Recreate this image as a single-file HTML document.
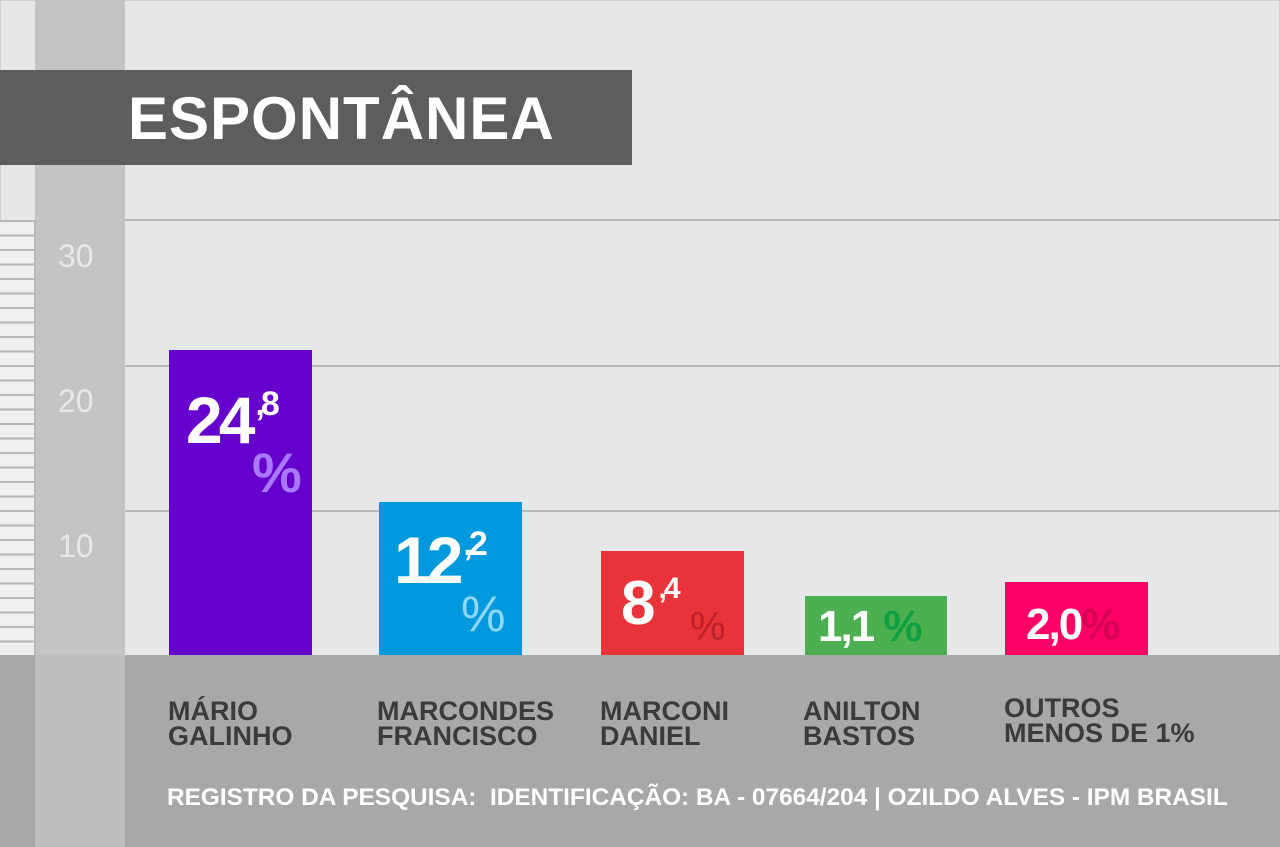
<!DOCTYPE html><html><head><meta charset="utf-8"><style>
body{margin:0;width:1280px;height:847px;overflow:hidden;background:#e6e7e9;font-family:"Liberation Sans",sans-serif;position:relative}
div{position:absolute}
.lbl{color:#3b3b3d;font-weight:bold;font-size:27px;line-height:25px;letter-spacing:0px}
.ax{color:#e8e8ea;font-size:32px;left:58px}
.bar{color:#fff;font-weight:bold}
</style></head><body>
<div style="left:0;top:0;width:1280px;height:847px;border:1px solid #d0d0d2;box-sizing:border-box"></div>
<div style="left:35px;top:0;width:90px;height:847px;background:#c3c4c6"></div>
<div style="left:0;top:220px;width:34px;height:435px;border-right:2px solid #b8b9bb;background:repeating-linear-gradient(to bottom,#b5b6b8 0,#b5b6b8 2px,#eeeff0 2px,#eeeff0 14.5px)"></div>
<div style="left:0;top:70px;width:632px;height:95px;background:#5d5d5f"></div>
<div style="left:128px;top:84px;color:#fff;font-weight:bold;font-size:60px;letter-spacing:1px">ESPONTÂNEA</div>
<div style="left:125px;top:219px;width:1155px;height:2px;background:#b8b9bb"></div>
<div style="left:125px;top:365px;width:1155px;height:2px;background:#b8b9bb"></div>
<div style="left:125px;top:510px;width:1155px;height:2px;background:#b8b9bb"></div>
<div class="ax" style="top:238px">30</div>
<div class="ax" style="top:383px">20</div>
<div class="ax" style="top:528px">10</div>
<div style="left:0;top:655px;width:1280px;height:192px;background:#a7a8aa"></div>
<div style="left:35px;top:655px;width:90px;height:192px;background:#bdbec0"></div>
<div style="left:169px;top:350px;width:143px;height:305px;background:#6600cc"></div>
<div class="bar" style="left:186px;top:382px;font-size:66px;letter-spacing:-4px">24<span style="font-size:34px;position:relative;top:-28px;left:4px">,8</span></div>
<div style="left:252px;top:440px;color:#a878ff;font-size:56px;font-weight:bold">%</div>
<div style="left:379px;top:502px;width:143px;height:153px;background:#0099dd"></div>
<div class="bar" style="left:394px;top:522px;font-size:66px;letter-spacing:-4px">12<span style="font-size:34px;position:relative;top:-28px;left:4px">,2</span></div>
<div style="left:461px;top:585px;color:#8fd8ff;font-size:50px">%</div>
<div style="left:601px;top:551px;width:143px;height:104px;background:#e83338"></div>
<div class="bar" style="left:621px;top:568px;font-size:62px;letter-spacing:-3px">8<span style="font-size:30px;position:relative;top:-26px;left:6px">,4</span></div>
<div style="left:690px;top:605px;color:#b82228;font-size:40px">%</div>
<div style="left:805px;top:596px;width:142px;height:59px;background:#4cb050"></div>
<div class="bar" style="left:818px;top:602px;font-size:44px;letter-spacing:-2px">1,1 <span style="color:#0fa040">%</span></div>
<div style="left:1005px;top:582px;width:143px;height:73px;background:#ff0066"></div>
<div class="bar" style="left:1026px;top:600px;font-size:44px;letter-spacing:-2px">2,0<span style="color:#d80050">%</span></div>
<div class="lbl" style="left:168px;top:699px">MÁRIO<br>GALINHO</div>
<div class="lbl" style="left:377px;top:699px">MARCONDES<br>FRANCISCO</div>
<div class="lbl" style="left:600px;top:699px">MARCONI<br>DANIEL</div>
<div class="lbl" style="left:803px;top:699px">ANILTON<br>BASTOS</div>
<div class="lbl" style="left:1004px;top:696px">OUTROS<br>MENOS DE 1%</div>
<div style="left:167px;top:784px;color:#fff;font-weight:bold;font-size:24.4px;white-space:nowrap">REGISTRO DA PESQUISA:&nbsp; IDENTIFICAÇÃO: BA - 07664/204 | OZILDO ALVES - IPM BRASIL</div>
</body></html>
